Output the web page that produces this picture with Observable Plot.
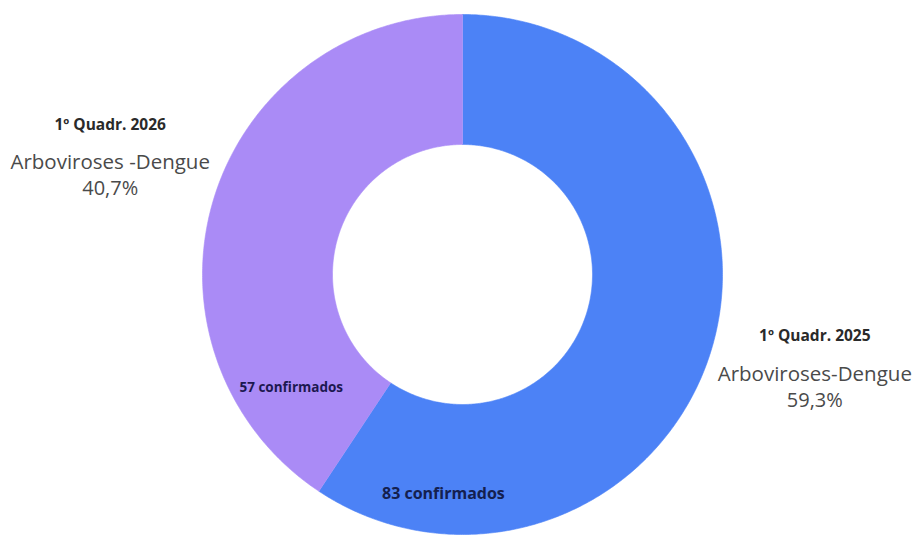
<!DOCTYPE html>
<html>
<head>
<meta charset="utf-8">
<script src="https://cdn.jsdelivr.net/npm/d3@7"></script>
<script src="https://cdn.jsdelivr.net/npm/@observablehq/plot@0.6"></script>
<style>
  html, body { margin: 0; padding: 0; background: #ffffff; }
  #chart svg { display: block; }
</style>
</head>
<body>
<div id="chart"></div>
<script>
// ---- data ----
const categories = ["1º Quadr. 2025", "1º Quadr. 2026"];
const seriesNames = ["Arboviroses-Dengue", "Arboviroses -Dengue"];
const percentages = [59.3, 40.7];
const percentLabels = ["59,3%", "40,7%"];
const confirmed = [83, 57];
const colors = ["#4c82f6", "#aa8bf6"];

// ---- derived geometry (from data) ----
const innerR = 0.5;
const TAU = Math.PI * 2;
let acc = 0;
const slices = categories.map((c, i) => {
  const a0 = acc;
  const a1 = acc + percentages[i] / 100 * TAU;
  acc = a1;
  return {c, i, a0, a1, mid: (a0 + a1) / 2};
});

const ringPoints = [];
for (const s of slices) {
  const n = Math.max(2, Math.ceil((s.a1 - s.a0) / (Math.PI / 360)));
  for (let k = 0; k <= n; k++) {
    const a = s.a0 + (s.a1 - s.a0) * k / n;
    ringPoints.push({c: s.c, x: Math.sin(a), y: Math.cos(a)});
  }
  for (let k = n; k >= 0; k--) {
    const a = s.a0 + (s.a1 - s.a0) * k / n;
    ringPoints.push({c: s.c, x: innerR * Math.sin(a), y: innerR * Math.cos(a)});
  }
}

const labelR = 1.415;
const outerLabels = slices.map(s => ({
  x: labelR * Math.sin(s.mid),
  y: labelR * Math.cos(s.mid),
  head: categories[s.i],
  name: seriesNames[s.i],
  pct: percentLabels[s.i]
}));

// confirmed-count labels, placed near the shared boundary inside each slice
const confAngles = [slices[0].a1 - 28.5 * Math.PI / 180, slices[1].a0 + 23 * Math.PI / 180];
const confR = [0.846, 0.79];
const confLabels = slices.map(s => ({
  x: confR[s.i] * Math.sin(confAngles[s.i]),
  y: confR[s.i] * Math.cos(confAngles[s.i]),
  text: confirmed[s.i] + " confirmados"
}));

const chart = Plot.plot({
  width: 919,
  height: 543,
  marginLeft: 202,
  marginRight: 197,
  marginTop: 14,
  marginBottom: 9,
  style: {fontFamily: "'Open Sans', 'Noto Sans', sans-serif", background: "#ffffff"},
  x: {domain: [-1, 1], axis: null},
  y: {domain: [-1, 1], axis: null},
  color: {domain: categories, range: colors},
  marks: [
    Plot.line(ringPoints, {x: "x", y: "y", z: "c", fill: "c", stroke: "c", strokeWidth: 0.6, curve: "linear"}),
    Plot.text(outerLabels, {x: "x", y: "y", text: "head", dy: -44, fontSize: 15.5, fontWeight: 700, fill: "#2a2a2a"}),
    Plot.text(outerLabels, {x: "x", y: "y", text: "name", dy: -6, fontSize: 20.5, fill: "#4a4a4a"}),
    Plot.text(outerLabels, {x: "x", y: "y", text: "pct", dy: 20, fontSize: 20, fill: "#4a4a4a"}),
    Plot.text(confLabels.slice(0, 1), {x: "x", y: "y", text: "text", fontSize: 16, fontWeight: 700, fill: "#14204f"}),
    Plot.text(confLabels.slice(1), {x: "x", y: "y", text: "text", fontSize: 13.5, fontWeight: 700, fill: "#1c1850"})
  ]
});
document.getElementById("chart").appendChild(chart);
</script>
</body>
</html>
